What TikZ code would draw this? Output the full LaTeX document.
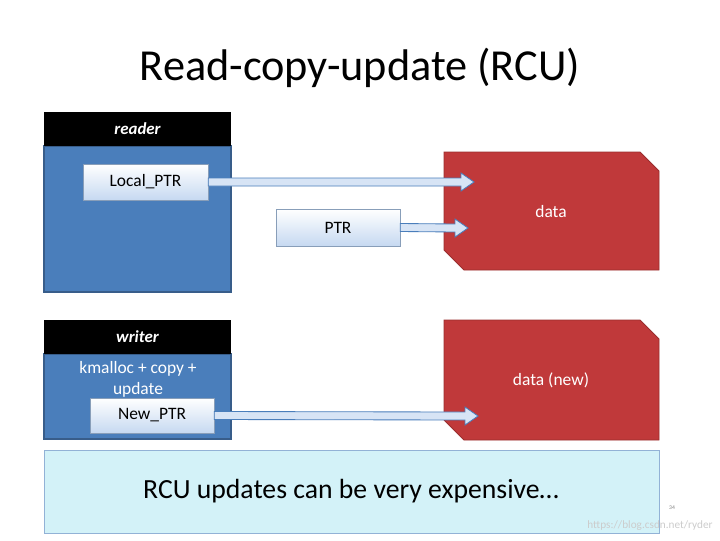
\documentclass[tikz,border=0pt]{standalone}
\usepackage{fontspec}
\setmainfont{Carlito}
\usetikzlibrary{calc}
\definecolor{boxblue}{HTML}{4A7EBB}
\definecolor{boxedge}{HTML}{385D8A}
\definecolor{ptrfill}{HTML}{C6D9F1}
\definecolor{datared}{HTML}{C0393A}
\definecolor{noteblue}{HTML}{D3F2F8}
\tikzset{
  header/.style={text=white,font=\bfseries\itshape\fontsize{12}{14}\selectfont},
  panel/.style={fill=boxblue,draw=boxedge,line width=0.8pt},
  ptr/.style={top color=white,bottom color=ptrfill,draw=boxedge!60,inner sep=0pt,font=\fontsize{12.4}{15}\selectfont},
  fat/.style={fill=ptrfill!70,draw=boxblue,line width=0.6pt},
  datashape/.style={fill=datared,draw=datared!80!black,line width=0.6pt},
  label/.style={text=white,font=\fontsize{12.4}{15}\selectfont}
}
% fat arrow from the east side of a node to a coordinate
\newcommand{\fatarrow}[2]{%
  \draw[fat] ($(#1.east)+(0,-4)$) -- ($(#2)+(-13,-4)$) -- ($(#2)+(-13,-9)$) -- (#2)
    -- ($(#2)+(-13,9)$) -- ($(#2)+(-13,4)$) -- ($(#1.east)+(0,4)$) -- cycle;}
\begin{document}
\begin{tikzpicture}[x=0.025cm,y=-0.025cm]
\useasboundingbox[fill=white] (0,0) rectangle (720,540);
% title
\node (title) at (360,68) {\fontsize{31.5}{36}\selectfont Read-copy-update (RCU)};
% reader
\draw[panel] (44,146) rectangle (231,292);
\fill[black] (44,112) rectangle (231,146);
\node[header] (reader) at (137.5,129) {reader};
\node[ptr,minimum width=125*0.025cm,minimum height=36*0.025cm] (local) at (145.5,182) {Local\_PTR};
\node[ptr,minimum width=124*0.025cm,minimum height=37*0.025cm] (ptr) at (338,227.5) {PTR};
% data shapes
\draw[datashape] (444,152) -- (640,152) -- (659,171) -- (659,270) -- (464,270) -- (444,250) -- cycle;
\node[label] (data) at (551,212) {data};
\draw[datashape] (444,320) -- (640,320) -- (659,339) -- (659,440) -- (464,440) -- (444,420) -- cycle;
\node[label] (datanew) at (551,380) {data (new)};
\coordinate (tipA) at (474,182);
\coordinate (tipB) at (468,228);
\fatarrow{local}{tipA}
\fatarrow{ptr}{tipB}
% writer
\draw[panel] (44,354) rectangle (231,439);
\fill[black] (44,320) rectangle (231,354);
\node[header] (writer) at (137.5,337) {writer};
\node[label,align=center] (alloc) at (138,379) {kmalloc + copy +\\update};
\node[ptr,minimum width=124*0.025cm,minimum height=35*0.025cm] (newptr) at (152,415.5) {New\_PTR};
\coordinate (tipC) at (478,416);
\fatarrow{newptr}{tipC}
% note
\draw[fill=noteblue,draw=boxblue!60] (44,450) rectangle (659,533);
\node (note) at (351,491) {\fontsize{19.7}{23}\selectfont RCU updates can be very expensive…};
\node[text=gray,font=\fontsize{4}{5}\selectfont] (pg) at (672,508) {34};
\node[text=gray!40,font=\fontsize{8}{9}\selectfont] (wm) at (650,526) {https://blog.csdn.net/ryder};
\end{tikzpicture}
\end{document}
